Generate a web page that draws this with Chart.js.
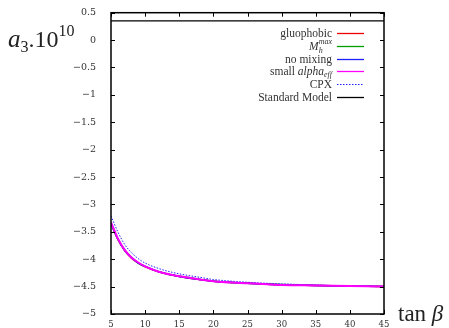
<!DOCTYPE html>
<html>
<head>
<meta charset="utf-8">
<script src="https://cdn.jsdelivr.net/npm/chart.js@4.4.0/dist/chart.umd.min.js"></script>
<style>
  body { margin: 0; background: #fff; }
  #wrap { width: 449px; height: 328px; }
</style>
</head>
<body>
<div id="wrap"><canvas id="chart1" width="449" height="328"></canvas></div>
<script>
// tan beta values
const tanBeta = [5, 6, 7, 8, 9, 10, 12, 14, 16, 18, 20, 25, 30, 35, 40, 45];

// a3 * 10^10 for each scenario
const gluophobic = [-3.35, -3.64, -3.84, -3.98, -4.07, -4.14, -4.23, -4.29, -4.34, -4.37, -4.40, -4.44, -4.47, -4.48, -4.49, -4.50];
const mhMax      = [-3.34, -3.63, -3.83, -3.97, -4.07, -4.13, -4.23, -4.29, -4.33, -4.37, -4.40, -4.44, -4.46, -4.48, -4.49, -4.50];
const noMixing   = [-3.35, -3.63, -3.84, -3.97, -4.07, -4.13, -4.23, -4.29, -4.34, -4.37, -4.40, -4.44, -4.47, -4.48, -4.49, -4.50];
const smallAlpha = [-3.33, -3.62, -3.83, -3.97, -4.06, -4.13, -4.23, -4.29, -4.33, -4.37, -4.40, -4.44, -4.47, -4.48, -4.49, -4.50];
const cpx        = [-3.21, -3.50, -3.73, -3.88, -3.99, -4.07, -4.17, -4.24, -4.29, -4.33, -4.37, -4.42, -4.45, -4.47, -4.49, -4.50];
const standardModel = [0.35, 0.35];
const smRange = [5, 45];

const legendLabels = ['gluophobic', 'M', 'no mixing', 'small ', 'CPX', 'Standard Model'];

function pts(xs, ys) {
    return xs.map((x, i) => ({ x: x, y: ys[i] }));
}

const serif = '"DejaVu Serif", serif';
const lserif = '"Liberation Serif", serif';

// draws inward ticks on all four sides, the frame, the legend and axis titles
const decoPlugin = {
    id: 'deco',
    afterDraw(chart) {
        const c = chart.ctx;
        const a = chart.chartArea;
        const xs = chart.scales.x, ys = chart.scales.y;
        c.save();
        c.strokeStyle = '#000';
        c.lineWidth = 1;
        // ticks
        c.beginPath();
        xs.ticks.forEach(t => {
            const px = Math.round(xs.getPixelForValue(t.value)) + 0.5;
            c.moveTo(px, a.bottom); c.lineTo(px, a.bottom - 4);
            c.moveTo(px, a.top); c.lineTo(px, a.top + 4);
        });
        ys.ticks.forEach(t => {
            const py = Math.round(ys.getPixelForValue(t.value)) + 0.5;
            c.moveTo(a.left, py); c.lineTo(a.left + 4, py);
            c.moveTo(a.right, py); c.lineTo(a.right - 4, py);
        });
        c.stroke();
        // frame
        c.lineWidth = 1.5;
        c.strokeRect(a.left, a.top, a.right - a.left, a.bottom - a.top);

        // legend
        const ds = chart.data.datasets;
        const textRight = 332, lx0 = 337, lx1 = 364;
        const rowY = [33, 46, 59, 71, 84, 97];
        c.textBaseline = 'alphabetic';
        for (let i = 0; i < ds.length; i++) {
            const y = rowY[i];
            c.fillStyle = '#333';
            c.textAlign = 'right';
            if (i === 1) {
                // M_h^max
                c.font = 'italic 8px ' + lserif;
                c.textAlign = 'left';
                const wSup = c.measureText('max').width;
                c.fillText('h', textRight - wSup, y + 7);
                c.fillText('max', textRight - wSup, y - 2);
                c.font = 'italic 11.5px ' + lserif;
                c.textAlign = 'right';
                c.fillText('M', textRight - wSup, y + 4);
            } else if (i === 3) {
                // small alpha_eff
                c.font = 'italic 8px ' + lserif;
                const wSub = c.measureText('eff').width;
                c.fillText('eff', textRight, y + 6);
                c.font = 'italic 11.5px ' + lserif;
                const wA = c.measureText('alpha').width;
                c.fillText('alpha', textRight - wSub, y + 4);
                c.font = '11.5px ' + lserif;
                c.fillText(legendLabels[i], textRight - wSub - wA, y + 4);
            } else {
                c.font = '11.5px ' + lserif;
                c.fillText(legendLabels[i], textRight, y + 4);
            }
            c.strokeStyle = ds[i].borderColor;
            c.lineWidth = i === 4 ? 1 : 1.3;
            c.setLineDash(ds[i].borderDash || []);
            c.beginPath();
            c.moveTo(lx0, y + 0.5); c.lineTo(lx1, y + 0.5);
            c.stroke();
            c.setLineDash([]);
        }

        // y title: a_3 . 10^10
        c.fillStyle = '#222';
        c.textAlign = 'left';
        c.font = 'italic 25px ' + lserif;
        let x = 8;
        c.fillText('a', x, 47);
        x += c.measureText('a').width;
        c.font = '16px ' + lserif;
        c.fillText('3', x, 52);
        x += c.measureText('3').width;
        c.font = '24px ' + lserif;
        c.fillText('.10', x, 47);
        x += c.measureText('.10').width;
        c.font = '16px ' + lserif;
        c.fillText('10', x, 36);

        // x title: tan beta
        c.font = '23px ' + lserif;
        c.fillText('tan ', 398, 321);
        const w = c.measureText('tan ').width;
        c.font = 'italic 23px ' + lserif;
        c.fillText('\u03b2', 398 + w, 321);
        c.restore();
    }
};

const ctx = document.getElementById('chart1').getContext('2d');
const myChart = new Chart(ctx, {
    type: 'line',
    data: {
        datasets: [
            { label: legendLabels[0], data: pts(tanBeta, gluophobic), borderColor: '#f00000', borderWidth: 1.5, order: 5 },
            { label: legendLabels[1], data: pts(tanBeta, mhMax), borderColor: '#00a000', borderWidth: 1.5, order: 4 },
            { label: legendLabels[2], data: pts(tanBeta, noMixing), borderColor: '#2020ff', borderWidth: 1.5, order: 3 },
            { label: legendLabels[3], data: pts(tanBeta, smallAlpha), borderColor: '#ff00ff', borderWidth: 2, order: 1 },
            { label: legendLabels[4], data: pts(tanBeta, cpx), borderColor: '#2020ff', borderWidth: 1, borderDash: [1.5, 1.5], order: 2 },
            { label: legendLabels[5], data: pts(smRange, standardModel), borderColor: '#000000', borderWidth: 1.3, order: 0 }
        ]
    },
    options: {
        responsive: false,
        animation: false,
        layout: { padding: { left: 0, right: 65, top: 10, bottom: 0 } },
        plugins: {
            legend: { display: false },
            tooltip: { enabled: false }
        },
        elements: {
            point: { radius: 0 },
            line: { cubicInterpolationMode: 'monotone' }
        },
        scales: {
            x: {
                type: 'linear',
                min: 5,
                max: 45,
                grid: { display: false },
                border: { display: false },
                ticks: {
                    stepSize: 5,
                    padding: -2,
                    maxRotation: 0,
                    color: '#333',
                    font: { family: serif, size: 8.5 }
                },
                afterFit: function(scale) { scale.height = 14; }
            },
            y: {
                min: -5,
                max: 0.5,
                grid: { display: false },
                border: { display: false },
                ticks: {
                    stepSize: 0.5,
                    padding: 7,
                    color: '#333',
                    font: { family: serif, size: 9.5 },
                    callback: function(v) { return v < 0 ? '\u2212' + Math.abs(v) : String(v); }
                },
                afterFit: function(scale) { scale.width = 111; }
            }
        }
    },
    plugins: [decoPlugin]
});
</script>
</body>
</html>
